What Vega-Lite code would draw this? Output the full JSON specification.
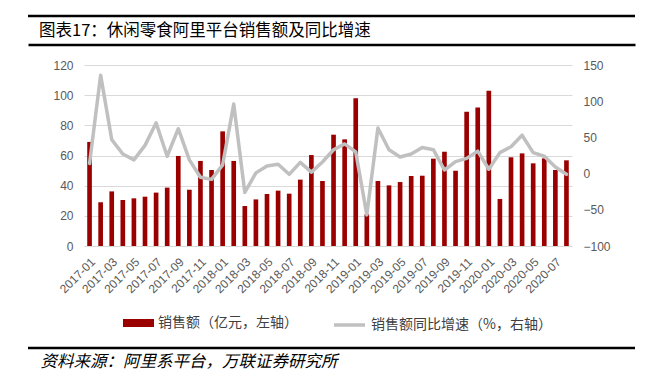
{
  "$schema": "https://vega.github.io/schema/vega-lite/v6.json",
  "width": 607,
  "height": 332,
  "autosize": "none",
  "padding": {"left": 28, "top": 16, "right": 14, "bottom": 36},
  "background": "#ffffff",
  "title": {
    "text": "图表17：休闲零食阿里平台销售额及同比增速",
    "anchor": "start",
    "frame": "group",
    "dx": 11,
    "offset": -31,
    "baseline": "middle",
    "font": "Noto Sans CJK SC",
    "fontSize": 16.5,
    "fontWeight": "normal",
    "color": "#000000"
  },
  "config": {
    "view": {"stroke": "#000000", "strokeWidth": 2.5, "strokeDash": [607, 332]},
    "axis": {
      "labelFont": "Liberation Sans",
      "labelFontSize": 12,
      "labelColor": "#595959",
      "domain": false,
      "ticks": false
    }
  },
  "data": {
    "values": [
      {"m": "2017-01", "sales": 69, "yoy": 14},
      {"m": "2017-02", "sales": 29, "yoy": 136},
      {"m": "2017-03", "sales": 36.2, "yoy": 47},
      {"m": "2017-04", "sales": 30.5, "yoy": 27},
      {"m": "2017-05", "sales": 31.6, "yoy": 19},
      {"m": "2017-06", "sales": 32.7, "yoy": 39},
      {"m": "2017-07", "sales": 35.4, "yoy": 70},
      {"m": "2017-08", "sales": 38.7, "yoy": 24},
      {"m": "2017-09", "sales": 59.7, "yoy": 62},
      {"m": "2017-10", "sales": 37.3, "yoy": 19},
      {"m": "2017-11", "sales": 56.4, "yoy": -5},
      {"m": "2017-12", "sales": 50.4, "yoy": -8},
      {"m": "2018-01", "sales": 76, "yoy": 12},
      {"m": "2018-02", "sales": 56.4, "yoy": 96},
      {"m": "2018-03", "sales": 26.5, "yoy": -26},
      {"m": "2018-04", "sales": 30.9, "yoy": 1},
      {"m": "2018-05", "sales": 34.5, "yoy": 10.5},
      {"m": "2018-06", "sales": 36.7, "yoy": 13},
      {"m": "2018-07", "sales": 34.7, "yoy": -1},
      {"m": "2018-08", "sales": 44, "yoy": 15.5},
      {"m": "2018-09", "sales": 60.3, "yoy": 2},
      {"m": "2018-10", "sales": 43.1, "yoy": 16},
      {"m": "2018-11", "sales": 73.8, "yoy": 33},
      {"m": "2018-12", "sales": 70.7, "yoy": 41},
      {"m": "2019-01", "sales": 97.9, "yoy": 30},
      {"m": "2019-02", "sales": 21, "yoy": -57},
      {"m": "2019-03", "sales": 43.1, "yoy": 63},
      {"m": "2019-04", "sales": 40.2, "yoy": 33},
      {"m": "2019-05", "sales": 42.4, "yoy": 23},
      {"m": "2019-06", "sales": 46.4, "yoy": 27},
      {"m": "2019-07", "sales": 46.6, "yoy": 36},
      {"m": "2019-08", "sales": 57.9, "yoy": 33},
      {"m": "2019-09", "sales": 62.5, "yoy": 5},
      {"m": "2019-10", "sales": 49.9, "yoy": 16.5},
      {"m": "2019-11", "sales": 89, "yoy": 21},
      {"m": "2019-12", "sales": 91.9, "yoy": 31},
      {"m": "2020-01", "sales": 103, "yoy": 6},
      {"m": "2020-02", "sales": 31.2, "yoy": 29},
      {"m": "2020-03", "sales": 58.8, "yoy": 37},
      {"m": "2020-04", "sales": 61.4, "yoy": 53},
      {"m": "2020-05", "sales": 54.8, "yoy": 29},
      {"m": "2020-06", "sales": 58.1, "yoy": 24},
      {"m": "2020-07", "sales": 50.4, "yoy": 9},
      {"m": "2020-08", "sales": 56.8, "yoy": -1}
    ]
  },
  "layer": [
    {
      "mark": {"type": "bar", "stroke": null},
      "encoding": {
        "x": {
          "field": "m",
          "type": "ordinal",
          "sort": null,
          "scale": {"type": "band", "range": [56, 544], "paddingInner": 0.58, "paddingOuter": 0.29},
          "axis": {
            "orient": "bottom",
            "offset": -102,
            "values": ["2017-01","2017-03","2017-05","2017-07","2017-09","2017-11","2018-01","2018-03","2018-05","2018-07","2018-09","2018-11","2019-01","2019-03","2019-05","2019-07","2019-09","2019-11","2020-01","2020-03","2020-05","2020-07"],
            "labelAngle": -45,
            "labelAlign": "right",
            "labelBaseline": "top",
            "labelPadding": 10,
            "labelFontSize": 12,
            "title": "资料来源：阿里系平台，万联证券研究所",
            "titleX": 12,
            "titleY": 115,
            "titleAngle": 0,
            "titleAlign": "left",
            "titleAnchor": "start",
            "titleBaseline": "middle",
            "titleFont": "Noto Sans CJK SC",
            "titleFontSize": 16.5,
            "titleFontStyle": "italic",
            "titleFontWeight": "normal",
            "titleColor": "#000000"
          }
        },
        "y": {
          "field": "sales",
          "type": "quantitative",
          "scale": {"domain": [0, 120], "range": [230, 49], "nice": false},
          "axis": {
            "orient": "left",
            "offset": -56,
            "values": [0, 20, 40, 60, 80, 100, 120],
            "labelPadding": 11,
            "grid": true,
            "gridColor": "#d9d9d9",
            "gridWidth": 1,
            "title": null
          }
        },
        "fill": {
          "datum": "销售额（亿元，左轴）",
          "scale": {"range": ["#9a0000"]},
          "legend": {
            "orient": "none",
            "legendX": 95,
            "legendY": 291.5,
            "title": null,
            "symbolType": "M-1,-0.26h2v0.52h-2z",
            "symbolSize": 961,
            "symbolStrokeWidth": 0,
            "labelFont": "Noto Sans CJK SC",
            "labelFontSize": 14,
            "labelColor": "#404040",
            "labelOffset": 4,
            "labelLimit": 0,
            "padding": 0
          }
        }
      }
    },
    {
      "mark": {"type": "line", "strokeWidth": 3.5, "strokeJoin": "round", "strokeCap": "round"},
      "encoding": {
        "x": {
          "field": "m",
          "type": "ordinal",
          "sort": null,
          "scale": {"type": "band", "range": [56, 544], "paddingInner": 0.58, "paddingOuter": 0.29},
          "axis": null
        },
        "y": {
          "field": "yoy",
          "type": "quantitative",
          "scale": {"domain": [-100, 150], "range": [230, 49], "nice": false, "zero": false},
          "axis": {
            "orient": "right",
            "offset": -63,
            "values": [-100, -50, 0, 50, 100, 150],
            "labelPadding": 11,
            "grid": false,
            "title": null
          }
        },
        "stroke": {
          "datum": "销售额同比增速（%，右轴）",
          "scale": {"range": ["#c0c0c0"]},
          "legend": {
            "orient": "none",
            "legendX": 304,
            "legendY": 291.5,
            "title": null,
            "symbolType": "stroke",
            "symbolSize": 961,
            "symbolStrokeWidth": 3.5,
            "labelFont": "Noto Sans CJK SC",
            "labelFontSize": 14,
            "labelColor": "#404040",
            "labelOffset": 4,
            "labelLimit": 0,
            "padding": 0
          }
        }
      }
    },
    {
      "mark": {"type": "rule", "strokeOpacity": 0},
      "encoding": {
        "x": {
          "field": "sales",
          "type": "quantitative",
          "scale": {"domain": [0, 120]},
          "axis": {
            "orient": "top",
            "offset": -28.5,
            "domain": true,
            "domainColor": "#000000",
            "domainWidth": 2.5,
            "labels": false,
            "ticks": false,
            "grid": false,
            "title": null
          }
        }
      }
    }
  ],
  "resolve": {"scale": {"x": "independent", "y": "independent", "fill": "independent", "stroke": "independent"}}
}
